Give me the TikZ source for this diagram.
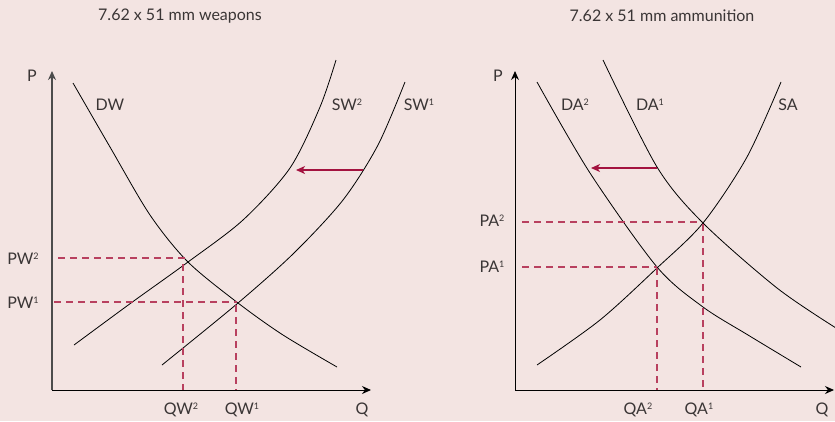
\documentclass[tikz,border=0pt]{standalone}
\usepackage{fontspec}
\setmainfont{Lato}
\usetikzlibrary{arrows.meta}
\definecolor{bgpink}{HTML}{F3E4E2}
\definecolor{shiftred}{HTML}{A3123F}
\definecolor{dashred}{HTML}{B8405F}
\definecolor{txtgray}{HTML}{3A3535}
\newcommand\supdig[1]{\raisebox{0.6ex}{\fontsize{9}{9}\selectfont #1}}
\tikzset{
  lbl/.style={text=txtgray, font=\fontsize{16}{16}\selectfont, inner sep=0pt, anchor=center},
  ttl/.style={text=txtgray, font=\fontsize{16}{16}\selectfont, inner sep=0pt, anchor=center},
  curve/.style={line width=0.8pt, black},
  axis/.style={line width=1pt, -{Stealth[length=9pt,width=8pt]}},
  guide/.style={line width=1.1pt, dashred, dash pattern=on 7pt off 5pt},
  shiftarrow/.style={line width=1.3pt, shiftred, -{Stealth[length=9pt,width=8pt,inset=2.5pt]}}
}
\begin{document}
\begin{tikzpicture}[x=1pt,y=-1pt]
\fill[bgpink] (0,0) rectangle (835,421);
\useasboundingbox (0,0) rectangle (835,421);

% ---------- left chart ----------
\node[ttl] (t1) at (180,16) {7.62 x 51 mm weapons};
\coordinate (o1) at (52,390);
\coordinate (py1) at (52,71);
\coordinate (qx1) at (371,390);
\draw[axis, line width=1.4pt, draw=black!70] (o1) -- (py1);
\draw[axis] (o1) -- (qx1);
\node[lbl] (p1) at (32,76) {P};
\node[lbl] (q1) at (362,410) {Q};

\draw[curve] plot[smooth, tension=0.5] coordinates {(73,83) (110,147) (150,215) (188,262) (238,303) (283,335) (337,367)};
\draw[curve] plot[smooth, tension=0.5] coordinates {(74,345) (131,303) (188,262) (243,220) (290,168) (320,107) (336,60)};
\draw[curve] plot[smooth, tension=0.5] coordinates {(162,365) (238,303) (294,253) (343,200) (378,145) (405,82)};

\node[lbl] (dw) at (110,105) {DW};
\node[lbl] (sw2) at (347,105) {SW\supdig{2}};
\node[lbl] (sw1) at (419,105) {SW\supdig{1}};

\coordinate (a1s) at (363,170);
\coordinate (a1e) at (296,170);
\draw[shiftarrow] (a1s) -- (a1e);

\coordinate (pw2a) at (58,258);
\coordinate (pw2b) at (185,258);
\coordinate (qw2a) at (183,264);
\coordinate (qw2b) at (183,390);
\coordinate (pw1a) at (54,302);
\coordinate (pw1b) at (237,302);
\coordinate (qw1a) at (236,305);
\coordinate (qw1b) at (236,390);
\draw[guide] (pw2a) -- (pw2b);
\draw[guide] (qw2a) -- (qw2b);
\draw[guide] (pw1a) -- (pw1b);
\draw[guide] (qw1a) -- (qw1b);

\node[lbl] (pw2) at (23,259) {PW\supdig{2}};
\node[lbl] (pw1) at (23,303) {PW\supdig{1}};
\node[lbl] (qw2) at (181,410) {QW\supdig{2}};
\node[lbl] (qw1) at (242,410) {QW\supdig{1}};

% ---------- right chart ----------
\node[ttl] (t2) at (662,16) {7.62 x 51 mm ammunition};
\coordinate (o2) at (515,390);
\coordinate (py2) at (515,71);
\coordinate (qx2) at (834,390);
\draw[axis] (o2) -- (py2);
\draw[axis] (o2) -- (qx2);
\node[lbl] (p2) at (498,76) {P};
\node[lbl] (q2) at (822,410) {Q};

\draw[curve] plot[smooth, tension=0.5] coordinates {(537,82) (590,173) (657,267) (703,307) (748,335) (801,367)};
\draw[curve] plot[smooth, tension=0.5] coordinates {(603,60) (657,167) (703,223) (777,288) (836,328)};
\draw[curve] plot[smooth, tension=0.5] coordinates {(537,365) (600,320) (657,268) (703,223) (747,157) (781,82)};

\node[lbl] (da2) at (575,105) {DA\supdig{2}};
\node[lbl] (da1) at (650,105) {DA\supdig{1}};
\node[lbl] (sa) at (788,105) {SA};

\coordinate (a2s) at (657,168);
\coordinate (a2e) at (591,168);
\draw[shiftarrow] (a2s) -- (a2e);

\coordinate (pa2a) at (522,222);
\coordinate (pa2b) at (702,222);
\coordinate (qa1a) at (703,224);
\coordinate (qa1b) at (703,390);
\coordinate (pa1a) at (522,267);
\coordinate (pa1b) at (657,267);
\coordinate (qa2a) at (657,268);
\coordinate (qa2b) at (657,390);
\draw[guide] (pa2a) -- (pa2b);
\draw[guide] (qa1a) -- (qa1b);
\draw[guide] (pa1a) -- (pa1b);
\draw[guide] (qa2a) -- (qa2b);

\node[lbl] (pa2) at (492,221) {PA\supdig{2}};
\node[lbl] (pa1) at (492,267) {PA\supdig{1}};
\node[lbl] (qa2) at (638,410) {QA\supdig{2}};
\node[lbl] (qa1) at (699,410) {QA\supdig{1}};
\end{tikzpicture}
\end{document}
